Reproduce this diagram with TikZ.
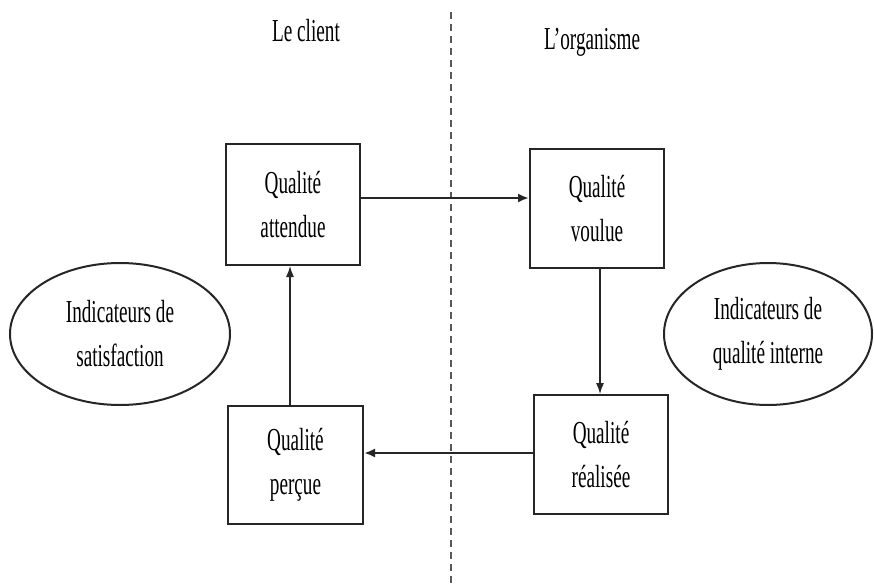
\documentclass[tikz,border=0pt]{standalone}
\usepackage{fontspec}
\setmainfont[FakeStretch=0.6]{Liberation Serif}
\usetikzlibrary{arrows.meta,shapes.geometric}
\begin{document}
\begin{tikzpicture}[x=1pt,y=-1pt,
  txt/.style={font=\fontsize{32}{44}\selectfont, align=center},
  qbox/.style={draw=black!85, line width=2pt, minimum width=134pt, minimum height=119pt, inner sep=0pt, txt},
  oval/.style={draw=black!85, line width=2pt, ellipse, inner sep=0pt, txt},
  flow/.style={line width=2.2pt, draw=black!85, -{Latex[length=11pt,width=9pt]}},
  thinflow/.style={line width=1.2pt, draw=black!85, -{Latex[length=11pt,width=8pt]}},
  sep/.style={draw=black!65, line width=1.3pt, dash pattern=on 7pt off 5pt}
]
\useasboundingbox (0,0) rectangle (874,588);
\fill[white] (0,0) rectangle (874,588);

\coordinate (d1) at (451,12);
\coordinate (d2) at (451,588);
\draw[sep] (d1) -- (d2);

\node[txt] (t1) at (306,31) {Le client};
\node[txt] (t2) at (592,42) {L’organisme};

\node[qbox, minimum height=121pt] (a) at (293,204.5) {Qualité\\attendue};
\node[qbox] (v) at (597,208.5) {Qualité\\voulue};
\node[qbox, minimum width=135pt, minimum height=118pt] (p) at (295.5,465) {Qualité\\perçue};
\node[qbox] (r) at (601,454.5) {Qualité\\réalisée};

\node[oval, minimum width=220pt, minimum height=142pt] (e1) at (120,334) {Indicateurs de\\satisfaction};
\node[oval, minimum width=208pt, minimum height=142pt] (e2) at (768,334) {Indicateurs de\\qualité interne};

\draw[flow] (a.east |- 0,198) -- (v.west |- 0,198);
\draw[flow] (r.west |- 0,453) -- (p.east |- 0,453);
\draw[thinflow] (p.north -| 290,0) -- (a.south -| 290,0);
\draw[thinflow] (v.south -| 600,0) -- (r.north -| 600,0);
\end{tikzpicture}
\end{document}
